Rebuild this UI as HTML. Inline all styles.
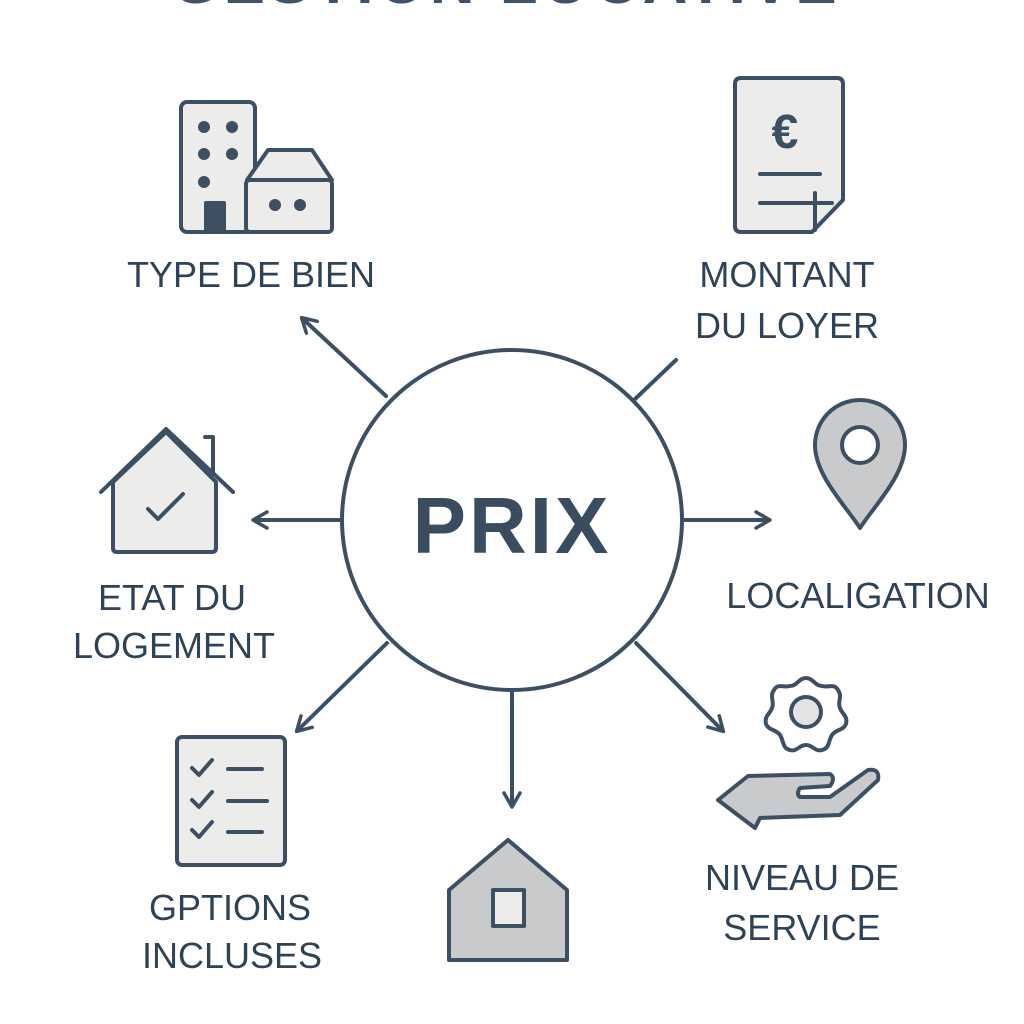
<!DOCTYPE html>
<html><head><meta charset="utf-8"><style>
html,body{margin:0;padding:0;background:#fff;}
svg{display:block}
text{font-family:"Liberation Sans","DejaVu Sans",sans-serif;fill:#2f4358;}
</style></head><body>
<svg width="1024" height="1024" viewBox="0 0 1024 1024" xmlns="http://www.w3.org/2000/svg">
<defs>
<marker id="ah" viewBox="0 0 20 20" refX="14" refY="10" markerWidth="20" markerHeight="20" markerUnits="userSpaceOnUse" orient="auto">
<path d="M2,2 L16,10 L2,18" fill="none" stroke="#3d4f63" stroke-width="3.5" stroke-linecap="round" stroke-linejoin="round"/>
</marker>
</defs>
<text x="506" y="3" text-anchor="middle" font-size="62" font-weight="bold" letter-spacing="4" style="fill:#3d536b">GESTION LOCATIVE</text>

<g stroke="#3d4f63" stroke-width="4" fill="none" stroke-linecap="round" stroke-linejoin="round">
<circle cx="512" cy="520" r="170" fill="#fff"/>
<line x1="386" y1="396" x2="303" y2="319" marker-end="url(#ah)"/>
<line x1="634" y1="400" x2="676" y2="360"/>
<line x1="340" y1="520" x2="255" y2="520" marker-end="url(#ah)"/>
<line x1="684" y1="520" x2="768" y2="520" marker-end="url(#ah)"/>
<line x1="387" y1="643" x2="298" y2="730" marker-end="url(#ah)"/>
<line x1="512" y1="690" x2="512" y2="805" marker-end="url(#ah)"/>
<line x1="636" y1="643" x2="722" y2="730" marker-end="url(#ah)"/>

<rect x="181" y="102" width="74" height="130" rx="6" fill="#ececea"/>
<path d="M247,180 L268,150 L312,150 L332,180 Z" fill="#ececea"/>
<rect x="246" y="180" width="86" height="52" rx="4" fill="#ececea"/>
<rect x="206" y="203" width="18" height="29" fill="#3d4f63"/>
<path d="M741,78 L837,78 Q843,78 843,84 L843,200 L812,232 L741,232 Q735,232 735,226 L735,84 Q735,78 741,78 Z" fill="#ececea"/>
<line x1="760" y1="174" x2="820" y2="174"/>
<line x1="760" y1="203" x2="832" y2="203"/>
<line x1="815" y1="193" x2="815" y2="230"/>
<path d="M860,528 C845,505 815,475 815,445 A45,45 0 0 1 905,445 C905,475 875,505 860,528 Z" fill="#c8cacb"/>
<circle cx="860" cy="445" r="18" fill="#fff"/>
<path d="M113,482 L113,548 Q113,552 117,552 L212,552 Q216,552 216,548 L216,482 L166,432 Z" fill="#ececea"/>
<path d="M101,492 L166,429 L233,492"/>
<path d="M205,437 L213,437 L213,474"/>
<path d="M148,509 L158,519 L183,494"/>
<rect x="177" y="737" width="108" height="128" rx="5" fill="#ececea"/>
<path d="M192,768 L199,775 L212,760"/><line x1="228" y1="769" x2="262" y2="769"/>
<path d="M192,800 L199,807 L212,792"/><line x1="228" y1="801" x2="267" y2="801"/>
<path d="M192,830 L199,837 L212,822"/><line x1="228" y1="832" x2="262" y2="832"/>
<path d="M449,960 L449,890 L508,840 L567,890 L567,960 Z" fill="#c8cacb"/>
<rect x="493" y="890" width="31" height="36" fill="#ececea"/>
<path d="M806,678 C813,678 815,686 822,686 C829,688 834,683 838,690 C843,697 837,701 840,708 C842,714 848,716 846,724 C843,731 836,729 832,735 C828,741 830,748 822,750 C815,752 813,745 806,745 C799,745 797,752 790,750 C782,748 784,741 780,735 C776,729 769,731 766,724 C764,716 770,714 772,708 C775,701 769,697 774,690 C778,683 783,688 790,686 C797,686 799,678 806,678 Z" fill="#fff"/>
<circle cx="806" cy="712" r="15" fill="#e3e3e3"/>
<path d="M718,800 L748,776 L830,774 Q836,778 830,786 L800,788 Q796,794 800,797 L830,797 L868,770 Q880,768 878,780 L840,815 L760,818 L755,828 Z" fill="#c8cacb"/>
</g>
<g fill="#3d4f63">
<circle cx="204" cy="127" r="6"/><circle cx="232" cy="127" r="6"/>
<circle cx="204" cy="154" r="6"/><circle cx="232" cy="154" r="6"/>
<circle cx="204" cy="182" r="6"/>
<circle cx="275" cy="205" r="6"/><circle cx="300" cy="205" r="6"/>
</g>
<text x="785" y="148" text-anchor="middle" font-size="48" font-weight="bold" style="fill:#3d4f63">€</text>

<text x="512" y="553" text-anchor="middle" font-size="80" letter-spacing="3" font-weight="bold" style="fill:#3a4c60">PRIX</text>

<g font-size="36">
<text x="251" y="287" text-anchor="middle">TYPE DE BIEN</text>
<text x="787" y="287" text-anchor="middle">MONTANT</text>
<text x="787" y="338" text-anchor="middle">DU LOYER</text>
<text x="858" y="608" text-anchor="middle">LOCALIGATION</text>
<text x="172" y="610" text-anchor="middle">ETAT DU</text>
<text x="174" y="658" text-anchor="middle">LOGEMENT</text>
<text x="230" y="920" text-anchor="middle">GPTIONS</text>
<text x="232" y="968" text-anchor="middle">INCLUSES</text>
<text x="802" y="890" text-anchor="middle">NIVEAU DE</text>
<text x="802" y="940" text-anchor="middle">SERVICE</text>
</g>
</svg>
</body></html>
